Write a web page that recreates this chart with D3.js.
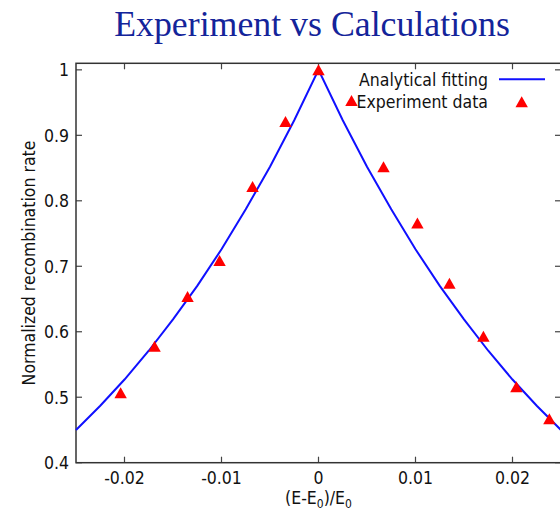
<!DOCTYPE html>
<html>
<head>
<meta charset="utf-8">
<script src="https://cdn.jsdelivr.net/npm/d3@7"></script>
<style>
  body { margin: 0; background: #fff; }
  svg { display: block; }
  .lbl { font-family: 'DejaVu Sans Condensed', 'DejaVu Sans', sans-serif; font-stretch: condensed; fill: #111; }
</style>
</head>
<body>
<div id="chart"></div>
<script>
// measured points
var expX = [-0.0204, -0.0169, -0.0135, -0.0102, -0.0068, -0.0034, 0.0, 0.0034, 0.0067, 0.0102, 0.0135, 0.0170, 0.0204, 0.0238];
var expY = [0.507, 0.578, 0.654, 0.709, 0.822, 0.921, 1.0, 0.953, 0.852, 0.766, 0.674, 0.593, 0.516, 0.467];

// analytical fit, sampled every 0.0025
var fitX = [-0.025, -0.0225, -0.02, -0.0175, -0.015, -0.0125, -0.01, -0.0075, -0.005, -0.0025, 0,
            0.0025, 0.005, 0.0075, 0.01, 0.0125, 0.015, 0.0175, 0.02, 0.0225, 0.025];
var fitY = [0.450, 0.487, 0.527, 0.571, 0.619, 0.670, 0.726, 0.787, 0.852, 0.923, 1.0,
            0.923, 0.852, 0.787, 0.726, 0.670, 0.619, 0.571, 0.527, 0.487, 0.450];

var xTicks = [-0.02, -0.01, 0, 0.01, 0.02];
var yTicks = [0.4, 0.5, 0.6, 0.7, 0.8, 0.9, 1];

var W = 560, H = 513;
var pLeft = 76, pRight = 561, pTop = 63.3, pBottom = 462.7;

var svg = d3.select('#chart').append('svg')
    .attr('width', W)
    .attr('height', H);

var x = d3.scaleLinear().domain([-0.025, 0.025]).range([pLeft, pRight]);
var y = d3.scaleLinear().domain([0.4, 1.01]).range([pBottom, pTop]);

// title
svg.append('text')
    .attr('x', 312)
    .attr('y', 36)
    .attr('text-anchor', 'middle')
    .style('font-family', "'Liberation Serif', 'Times New Roman', serif")
    .style('font-size', '35.8px')
    .style('fill', '#14249a')
    .text('Experiment vs Calculations');

// ticks on all four sides, pointing inward
var tickLen = 6;
var tk = svg.append('g').attr('stroke', '#444').attr('stroke-width', 1.2);
xTicks.forEach(function(t){
    tk.append('line').attr('x1', x(t)).attr('x2', x(t)).attr('y1', pBottom).attr('y2', pBottom - tickLen);
    tk.append('line').attr('x1', x(t)).attr('x2', x(t)).attr('y1', pTop).attr('y2', pTop + tickLen);
});
yTicks.forEach(function(t){
    tk.append('line').attr('x1', pLeft).attr('x2', pLeft + tickLen).attr('y1', y(t)).attr('y2', y(t));
    tk.append('line').attr('x1', pRight).attr('x2', pRight - tickLen).attr('y1', y(t)).attr('y2', y(t));
});

// tick labels
svg.selectAll('.xt').data(xTicks).enter().append('text')
    .attr('class', 'lbl xt')
    .attr('x', function(d){ return x(d); })
    .attr('y', pBottom + 21)
    .attr('text-anchor', 'middle')
    .style('font-size', '17.5px')
    .text(function(d){ return String(d); });

svg.selectAll('.yt').data(yTicks).enter().append('text')
    .attr('class', 'lbl yt')
    .attr('x', pLeft - 7)
    .attr('y', function(d){ return y(d); })
    .attr('dy', '0.36em')
    .attr('text-anchor', 'end')
    .style('font-size', '17.5px')
    .text(function(d){ return String(d); });

// frame
svg.append('rect')
    .attr('x', pLeft).attr('y', pTop)
    .attr('width', pRight - pLeft).attr('height', pBottom - pTop)
    .attr('fill', 'none')
    .attr('stroke', '#333')
    .attr('stroke-width', 1.5);

// axis titles
svg.append('text')
    .attr('class', 'lbl')
    .attr('transform', 'translate(35,' + ((pTop + pBottom) / 2) + ') rotate(-90)')
    .attr('text-anchor', 'middle')
    .style('font-size', '17.5px')
    .text('Normalized recombination rate');

var xt = svg.append('text')
    .attr('class', 'lbl')
    .attr('x', (pLeft + pRight) / 2)
    .attr('y', 504)
    .attr('text-anchor', 'middle')
    .style('font-size', '17.5px');
xt.append('tspan').text('(E-E');
xt.append('tspan').attr('dy', 4).style('font-size', '12px').text('0');
xt.append('tspan').attr('dy', -4).text(')/E');
xt.append('tspan').attr('dy', 4).style('font-size', '12px').text('0');

// fitted curve
var fit = fitX.map(function(v, i){ return [v, fitY[i]]; });
var line = d3.line()
    .x(function(d){ return x(d[0]); })
    .y(function(d){ return y(d[1]); });

svg.append('path')
    .datum(fit)
    .attr('d', line)
    .attr('fill', 'none')
    .attr('stroke', '#1010ff')
    .attr('stroke-width', 2);

// triangle markers
var tri = 'M0,-5.5L6.2,5.5L-6.2,5.5Z';
svg.selectAll('.pt').data(expX).enter().append('path')
    .attr('class', 'pt')
    .attr('d', tri)
    .attr('transform', function(d, i){ return 'translate(' + x(d) + ',' + y(expY[i]) + ')'; })
    .attr('fill', '#ff0000');

// legend
var lg = svg.append('g');
lg.append('text')
    .attr('class', 'lbl')
    .attr('x', 488).attr('y', 85.5)
    .attr('text-anchor', 'end')
    .style('font-size', '17.5px')
    .text('Analytical fitting');
lg.append('line')
    .attr('x1', 499).attr('x2', 545)
    .attr('y1', 79.3).attr('y2', 79.3)
    .attr('stroke', '#1010ff')
    .attr('stroke-width', 2);
lg.append('text')
    .attr('class', 'lbl')
    .attr('x', 488).attr('y', 107.5)
    .attr('text-anchor', 'end')
    .style('font-size', '17.5px')
    .text('Experiment data');
lg.append('path')
    .attr('d', tri)
    .attr('transform', 'translate(521.7,101.7)')
    .attr('fill', '#ff0000');
</script>
</body>
</html>
